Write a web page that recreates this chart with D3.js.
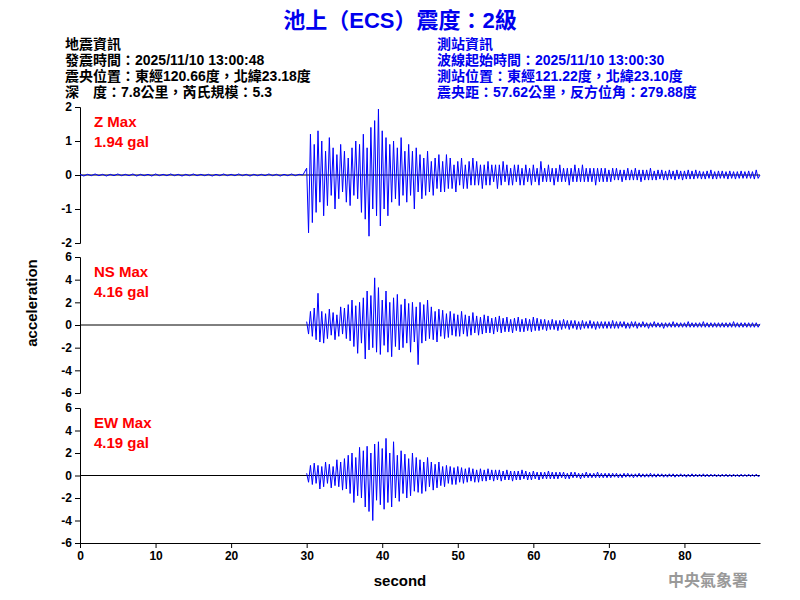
<!DOCTYPE html><html><head><meta charset="utf-8"><script src="https://cdn.jsdelivr.net/npm/d3@7"></script>
<style>body{margin:0;background:#fff}text{font-family:"Liberation Sans",Arial,sans-serif}</style></head><body><svg id="c" width="800" height="600"></svg><script>
const title="池上（ECS）震度：2級";
const leftInfo=["地震資訊","發震時間：2025/11/10 13:00:48","震央位置：東經120.66度，北緯23.18度","深　度：7.8公里，芮氏規模：5.3"];
const rightInfo=["測站資訊","波線起始時間：2025/11/10 13:00:30","測站位置：東經121.22度，北緯23.10度","震央距：57.62公里，反方位角：279.88度"];
const channels=["Z","NS","EW"], maxes=["1.94","4.16","4.19"];
const yTicks=[[-2,-1,0,1,2],[-6,-4,-2,0,2,4,6],[-6,-4,-2,0,2,4,6]];
const xTicks=[0,10,20,30,40,50,60,70,80];
const zPre=[0.02,-0.03,0.02,-0.02,0.03,-0.02,0.02,-0.03,0.02,-0.02,0.03,-0.02,0.02,-0.02,0.03,-0.03,0.02,-0.02,0.02,-0.03,0.03,-0.02,0.02,-0.02,0.03,-0.02,0.02,-0.03,0.02,-0.02,0.03,-0.02,0.02,-0.02,0.02,-0.03,0.02,-0.02,0.03,-0.02,0.02,-0.02,0.03,-0.02,0.02,-0.03,0.02,-0.02,0.02,-0.02,0.03,-0.02,0.02,-0.03,0.02,-0.02,0.03,-0.02,0.02,0.0];
const zMain=[0.2,-1.7,1.2,-1.4,0.9,-1.1,1.3,-0.8,1.0,-1.2,0.7,-0.9,1.1,-0.6,0.8,-1.0,0.6,-0.7,0.9,-0.5,
0.7,-0.8,0.5,-0.9,0.8,-0.6,1.0,-0.7,0.9,-1.1,1.2,-1.3,0.8,-1.8,1.4,-1.0,1.6,-1.2,1.94,-1.5,
1.3,-1.0,1.1,-1.2,0.9,-0.8,1.0,-0.7,0.8,-0.9,1.1,-0.6,0.7,-0.8,0.9,-0.6,0.7,-1.0,0.8,-0.5,
0.6,-0.7,0.5,-0.6,0.7,-0.5,0.4,-0.6,0.5,-0.4,0.6,-0.5,0.4,-0.5,0.6,-0.4,0.5,-0.4,0.3,-0.5,
0.4,-0.3,0.5,-0.4,0.3,-0.4,0.4,-0.3,0.5,-0.3,0.4,-0.3,0.3,-0.4,0.3,-0.3,0.4,-0.3,0.3,-0.2,
0.3,-0.4,0.3,-0.3,0.4,-0.2,0.3,-0.3,0.2,-0.3,0.3,-0.2,0.3,-0.3,0.2,-0.3,0.3,-0.2,0.2,-0.3,
0.3,-0.2,0.2,-0.3,0.4,-0.2,0.2,-0.2,0.3,-0.2,0.2,-0.3,0.2,-0.2,0.3,-0.2,0.2,-0.2,0.2,-0.3,
0.2,-0.2,0.3,-0.2,0.2,-0.2,0.3,-0.2,0.2,-0.2,0.2,-0.2,0.2,-0.3,0.2,-0.2,0.2,-0.2,0.2,-0.2,
0.15,-0.2,0.2,-0.15,0.2,-0.15,0.15,-0.2,0.15,-0.15,0.2,-0.15,0.15,-0.15,0.2,-0.15,0.15,-0.2,0.15,-0.15,
0.15,-0.15,0.2,-0.15,0.12,-0.15,0.15,-0.12,0.15,-0.15,0.12,-0.15,0.15,-0.12,0.12,-0.15,0.15,-0.12,0.12,-0.15,
0.12,-0.12,0.15,-0.12,0.12,-0.12,0.15,-0.1,0.12,-0.12,0.1,-0.12,0.12,-0.1,0.15,-0.12,0.1,-0.12,0.12,-0.1,
0.12,-0.1,0.1,-0.12,0.12,-0.1,0.1,-0.12,0.1,-0.1,0.12,-0.1,0.1,-0.1,0.12,-0.1,0.1,-0.12,0.15,-0.1,0.0];
const nsMain=[0.3,-0.8,1.2,-1.0,1.5,-1.3,2.8,-1.5,1.2,-1.6,1.0,-1.2,1.4,-0.9,1.1,-1.3,0.9,-1.0,1.6,-0.8,
1.5,-1.2,1.8,-1.4,2.2,-1.9,1.7,-2.5,2.0,-1.6,2.4,-3.0,3.0,-2.2,2.6,-2.0,4.16,-2.4,3.3,-2.6,
2.2,-1.8,3.0,-2.4,2.0,-2.8,2.4,-1.9,2.7,-2.2,1.8,-2.0,2.3,-1.6,1.9,-2.4,2.0,-1.5,1.6,-3.5,
2.0,-1.6,1.8,-1.4,2.2,-1.2,1.6,-1.3,1.2,-1.5,1.4,-1.0,1.3,-1.2,1.0,-1.1,1.2,-0.9,1.0,-1.0,
0.9,-1.0,1.2,-0.8,0.9,-1.0,0.8,-0.9,1.1,-0.7,0.8,-0.9,0.7,-0.8,0.9,-0.7,0.8,-0.7,0.6,-0.8,
0.7,-0.6,0.8,-0.7,0.6,-0.6,0.7,-0.6,0.5,-0.7,0.6,-0.5,0.7,-0.6,0.5,-0.6,0.6,-0.5,0.5,-0.6,
0.7,-0.5,0.6,-0.5,0.5,-0.4,0.5,-0.5,0.4,-0.4,0.5,-0.4,0.4,-0.5,0.4,-0.4,0.5,-0.3,0.4,-0.4,
0.4,-0.3,0.4,-0.4,0.3,-0.4,0.4,-0.3,0.3,-0.3,0.4,-0.3,0.3,-0.4,0.3,-0.3,0.3,-0.3,0.3,-0.3,
0.3,-0.3,0.4,-0.3,0.3,-0.3,0.3,-0.2,0.3,-0.3,0.2,-0.3,0.3,-0.2,0.3,-0.3,0.2,-0.2,0.3,-0.2,
0.2,-0.3,0.2,-0.2,0.3,-0.2,0.2,-0.2,0.2,-0.3,0.2,-0.2,0.2,-0.2,0.3,-0.2,0.2,-0.2,0.2,-0.2,
0.2,-0.2,0.3,-0.2,0.2,-0.2,0.2,-0.2,0.2,-0.2,0.3,-0.2,0.2,-0.2,0.2,-0.2,0.2,-0.2,0.2,-0.2,
0.2,-0.2,0.2,-0.2,0.2,-0.2,0.3,-0.2,0.2,-0.2,0.2,-0.2,0.2,-0.2,0.2,-0.2,0.2,-0.2,0.2,-0.2,0.1];
const ewMain=[0.2,-0.6,0.9,-0.8,1.1,-0.7,0.9,-1.2,0.8,-1.0,1.2,-0.7,1.0,-1.1,0.8,-0.9,1.4,-1.0,1.2,-1.3,
1.5,-1.2,1.8,-1.6,2.0,-2.4,1.6,-1.8,2.5,-2.0,2.2,-2.8,2.6,-3.2,2.0,-4.0,2.8,-2.2,3.0,-2.6,
2.4,-3.0,3.3,-2.4,2.0,-2.8,3.0,-2.0,1.8,-2.3,2.2,-1.6,1.9,-2.0,1.5,-1.8,2.0,-1.4,1.6,-1.5,
1.4,-1.6,1.2,-1.4,1.6,-1.0,1.2,-1.3,1.0,-1.1,1.2,-0.9,0.8,-1.0,0.9,-0.7,0.8,-0.8,0.7,-0.8,
0.8,-0.6,0.7,-0.7,0.6,-0.6,0.7,-0.5,0.6,-0.6,0.5,-0.6,0.6,-0.5,0.5,-0.5,0.6,-0.4,0.5,-0.5,
0.5,-0.4,0.5,-0.5,0.4,-0.4,0.5,-0.4,0.4,-0.5,0.4,-0.4,0.4,-0.4,0.5,-0.3,0.4,-0.4,0.3,-0.4,
0.4,-0.3,0.3,-0.4,0.3,-0.3,0.3,-0.3,0.4,-0.3,0.3,-0.3,0.3,-0.3,0.3,-0.2,0.3,-0.3,0.2,-0.3,
0.3,-0.2,0.3,-0.2,0.2,-0.3,0.2,-0.2,0.3,-0.2,0.2,-0.2,0.2,-0.2,0.3,-0.2,0.2,-0.2,0.2,-0.2,
0.2,-0.2,0.2,-0.15,0.2,-0.2,0.15,-0.2,0.2,-0.15,0.2,-0.15,0.15,-0.2,0.15,-0.15,0.2,-0.15,0.15,-0.15,
0.15,-0.15,0.2,-0.15,0.15,-0.15,0.15,-0.12,0.15,-0.15,0.12,-0.15,0.15,-0.12,0.15,-0.15,0.12,-0.12,0.15,-0.12,
0.12,-0.15,0.12,-0.12,0.15,-0.12,0.12,-0.12,0.12,-0.12,0.15,-0.12,0.12,-0.12,0.12,-0.1,0.12,-0.12,0.1,-0.12,
0.12,-0.1,0.12,-0.12,0.1,-0.12,0.12,-0.1,0.1,-0.12,0.12,-0.1,0.1,-0.1,0.12,-0.1,0.1,-0.1,0.12,-0.1,0.0];
const preStep=0.5, mainStart=30, mainStep=0.25;

const svg=d3.select("#c");
svg.append("text").attr("x",400).attr("y",28).attr("text-anchor","middle").attr("fill","#0000ee")
 .style("font-size","22px").style("font-weight","bold").style("font-family","'Liberation Sans','Noto Sans CJK TC'").text(title);
const info=(arr,x,col)=>arr.forEach((t,i)=>svg.append("text").attr("x",x).attr("y",49+i*16).attr("fill",col)
 .style("font-size","14px").style("font-weight","bold").style("font-family","'Liberation Sans','Noto Sans CJK TC'").text(t));
info(leftInfo,65,"#000");info(rightInfo,437,"#0000ee");
const x=d3.scaleLinear().domain([0,90]).range([80,760]);
const panels=[[107,243,2],[257,393,6],[408,543,6]];
const series=[zMain,nsMain,ewMain];
const fmt=d=>String(d);
panels.forEach(([top,bot,m],i)=>{
 const y=d3.scaleLinear().domain([-m,m]).range([bot,top]);
 const g=svg.append("g").attr("transform","translate(80,0)")
  .call(d3.axisLeft(y).tickValues(yTicks[i]).tickFormat(fmt).tickSizeOuter(0).tickSize(5));
 g.selectAll("text").style("font-size","12px").style("font-weight","bold");
 svg.append("line").attr("x1",x(0)).attr("x2",x(90)).attr("y1",y(0)).attr("y2",y(0)).attr("stroke","#000").attr("stroke-width",1);
 let pts=[];
 if(i===0) zPre.forEach((v,k)=>pts.push([k*preStep,v]));
 series[i].forEach((v,k)=>pts.push([mainStart+k*mainStep,v]));
 svg.append("path").attr("d",d3.line().x(d=>x(d[0])).y(d=>y(d[1]))(pts)).attr("fill","none").attr("stroke","#0000ff").attr("stroke-width",1);
 svg.append("text").attr("x",94).attr("y",top+20).attr("fill","#ff0000").style("font-size","15px").style("font-weight","bold").text(channels[i]+" Max");
 svg.append("text").attr("x",94).attr("y",top+40).attr("fill","#ff0000").style("font-size","15px").style("font-weight","bold").text(maxes[i]+" gal");
});
const gx=svg.append("g").attr("transform","translate(0,543)").call(d3.axisBottom(x).tickValues(xTicks).tickSize(5).tickSizeOuter(0));
gx.selectAll("text").style("font-size","12px").style("font-weight","bold");
svg.append("text").attr("x",400).attr("y",586).attr("text-anchor","middle").style("font-size","15px").style("font-weight","bold").text("second");
svg.append("text").attr("transform","translate(37,303) rotate(-90)").attr("text-anchor","middle").style("font-size","15px").style("font-weight","bold").text("acceleration");
svg.append("text").attr("x",748).attr("y",586).attr("text-anchor","end").attr("fill","#999").style("font-size","16px").style("font-weight","bold").style("font-family","'Noto Sans CJK TC'").text("中央氣象署");
</script></body></html>
